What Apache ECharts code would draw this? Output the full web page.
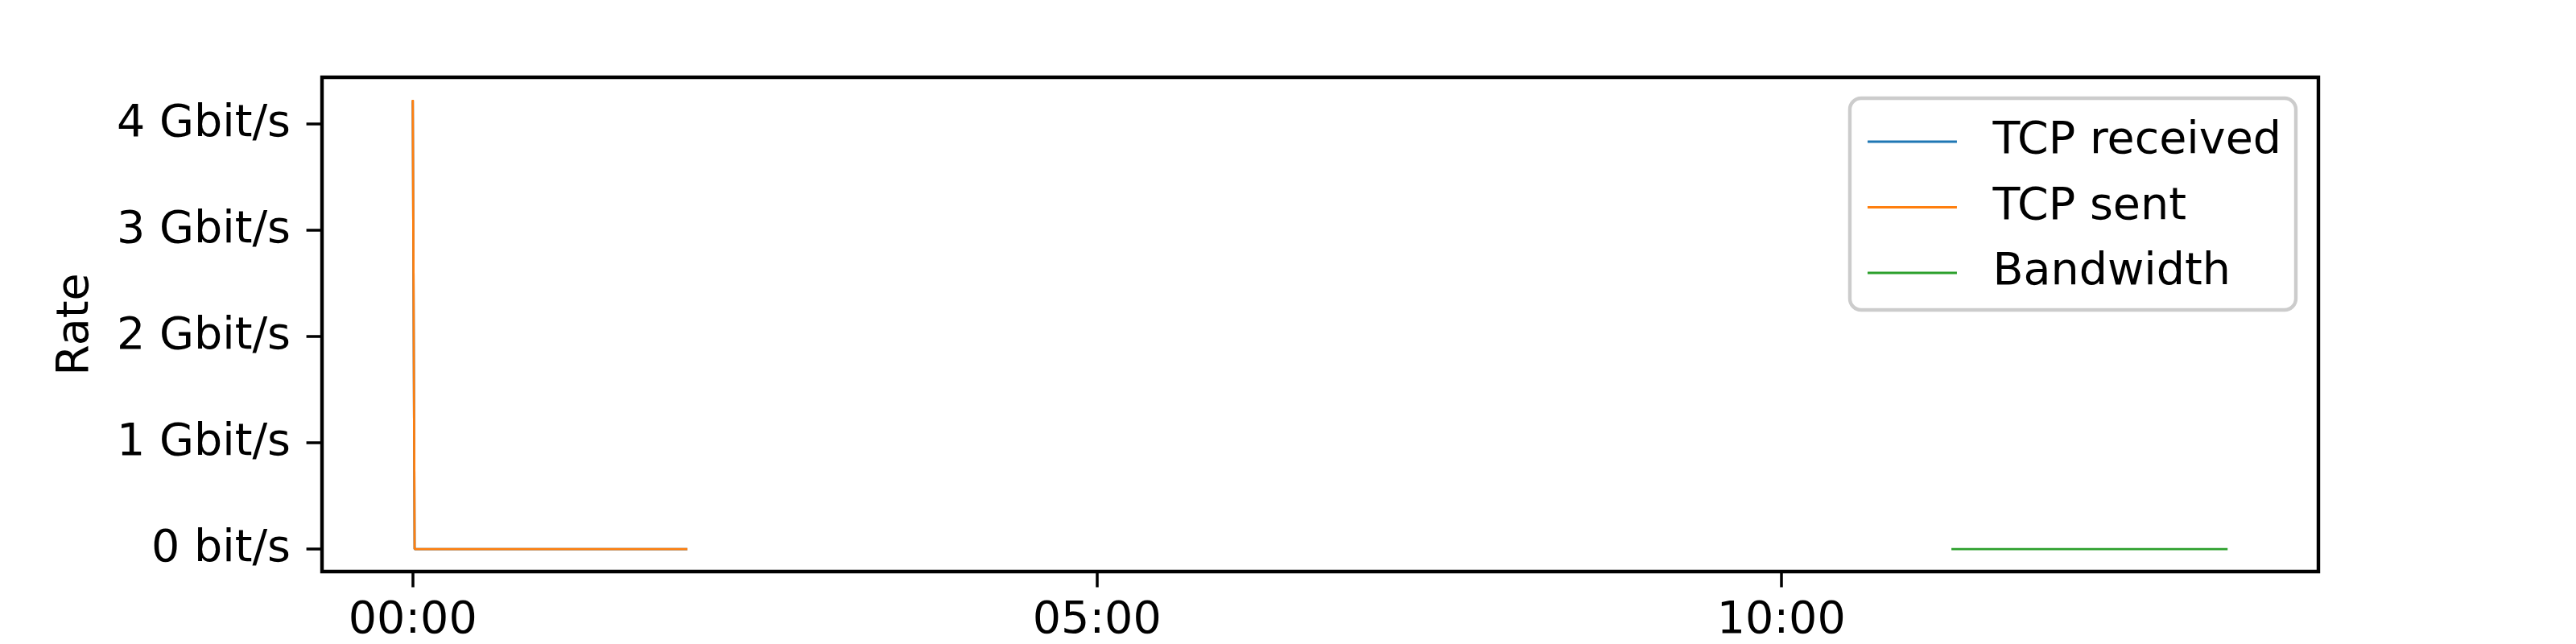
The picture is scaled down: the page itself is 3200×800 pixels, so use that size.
<!DOCTYPE html>
<html>
<head>
<meta charset="utf-8">
<script src="https://cdn.jsdelivr.net/npm/echarts@6/dist/echarts.min.js"></script>
<style>
html,body{margin:0;padding:0;background:#fff;}
#chart{width:3200px;height:800px;}
</style>
</head>
<body>
<div id="chart"></div>
<script>
// Time in minutes after 00:00, rates in Gbit/s
const tcpTime = [0, 0.8, 4.7, 5.0, 5.3, 10.6, 10.9, 11.2, 16.5, 16.8, 17.1, 22.6, 22.9, 23.2, 28.8, 29.1, 29.4, 36.5, 36.8, 37.1, 48.8, 49.1, 49.4, 60.6, 60.9, 61.2, 75.5, 75.8, 76.1, 98.8, 99.1, 99.4, 120.4];
const tcpReceived = [4.22, 0, 0, 0.008, 0, 0, 0.008, 0, 0, 0.008, 0, 0, 0.008, 0, 0, 0.008, 0, 0, 0.008, 0, 0, 0.008, 0, 0, 0.008, 0, 0, 0.008, 0, 0, 0.008, 0, 0];
const tcpSent = [4.23, 0, 0, 0.012, 0, 0, 0.012, 0, 0, 0.012, 0, 0, 0.012, 0, 0, 0.012, 0, 0, 0.012, 0, 0, 0.012, 0, 0, 0.012, 0, 0, 0.012, 0, 0, 0.012, 0, 0];
const bwTime = [674.6, 705, 735, 765, 795.7];
const bandwidth = [0, 0, 0, 0, 0];
const xTicks = [0, 300, 600];
const yTicks = [0, 1, 2, 3, 4];
const seriesNames = ['TCP received', 'TCP sent', 'Bandwidth'];
const colors = ['#1f77b4', '#ff7f0e', '#2ca02c'];

function pairs(xs, ys) { return xs.map((x, i) => [x, ys[i]]); }
function fmtTime(v) {
  const h = Math.floor(v / 60), m = Math.round(v - h * 60);
  return String(h).padStart(2, '0') + ':' + String(m).padStart(2, '0');
}
function fmtRate(v) {
  return v === 0 ? '0 bit/s' : (Math.round(v * 100) / 100) + ' Gbit/s';
}

const FS = 55.5;
const FONT = 'DejaVu Sans';
const chart = echarts.init(document.getElementById('chart'), null, {renderer: 'canvas'});
const lineSeries = (name, data, c) => ({
  name, type: 'line', data, showSymbol: false, symbol: 'none',
  lineStyle: {color: c, width: 2.8}, itemStyle: {color: c}, animation: false
});
chart.setOption({
  animation: false,
  backgroundColor: '#fff',
  textStyle: {fontFamily: FONT},
  grid: {left: 400, right: 320, top: 96, bottom: 88, show: true, borderColor: '#000', borderWidth: 4.4, backgroundColor: 'transparent', containLabel: false},
  legend: {
    orient: 'vertical', right: 348, top: 122,
    data: seriesNames.map(n => ({name: n, icon: 'rect'})),
    itemWidth: 111, itemHeight: 3, itemGap: 25.5,
    padding: [26, 18, 18, 22],
    borderColor: '#cccccc', borderWidth: 4.4, borderRadius: 14,
    backgroundColor: 'rgba(255,255,255,0.8)',
    textStyle: {fontFamily: FONT, fontSize: FS, color: '#000', lineHeight: 56, padding: [0, 0, 0, 39.5]},
    selectedMode: false
  },
  xAxis: {
    type: 'value', min: -39.8, max: 835.5,
    splitLine: {show: false},
    axisLine: {show: false, onZero: false},
    axisTick: {show: true, customValues: xTicks, length: 19.4, lineStyle: {color: '#000', width: 3.5}},
    axisLabel: {customValues: xTicks, formatter: fmtTime, fontFamily: FONT, fontSize: FS, color: '#000', margin: 34}
  },
  yAxis: {
    type: 'value', min: -0.2114, max: 4.4414,
    name: 'Rate', nameLocation: 'middle', nameRotate: 90, nameGap: 277,
    nameTextStyle: {fontFamily: FONT, fontSize: FS, color: '#000'},
    splitLine: {show: false},
    axisLine: {show: false, onZero: false},
    axisTick: {show: true, customValues: yTicks, length: 19.4, lineStyle: {color: '#000', width: 3.5}},
    axisLabel: {customValues: yTicks, formatter: fmtRate, fontFamily: FONT, fontSize: FS, color: '#000', margin: 39}
  },
  series: [
    lineSeries(seriesNames[0], pairs(tcpTime, tcpReceived), colors[0]),
    lineSeries(seriesNames[1], pairs(tcpTime, tcpSent), colors[1]),
    lineSeries(seriesNames[2], pairs(bwTime, bandwidth), colors[2])
  ]
});
</script>
</body>
</html>
